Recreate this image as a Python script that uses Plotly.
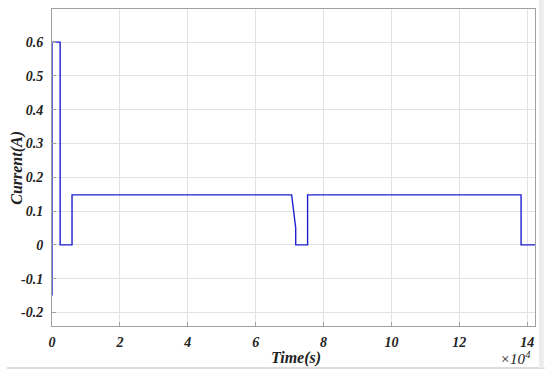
import plotly.graph_objects as go

# current waveform (time in s, current in A)
time_s = [0, 0, 2400, 2400, 5900, 5900, 70600, 71800, 71800, 75300, 75300, 138200, 138200, 142300]
current_a = [-0.15, 0.6, 0.6, 0, 0, 0.148, 0.148, 0.05, 0, 0, 0.148, 0.148, 0, 0]

x_ticks = [0, 20000, 40000, 60000, 80000, 100000, 120000, 140000]
x_labels = ["0", "2", "4", "6", "8", "10", "12", "14"]
y_ticks = [-0.2, -0.1, 0, 0.1, 0.2, 0.3, 0.4, 0.5, 0.6]
y_labels = ["-0.2", "-0.1", "0", "0.1", "0.2", "0.3", "0.4", "0.5", "0.6"]

serif = "Liberation Serif"
tick_font = dict(family=serif, size=14, color="#222")

fig = go.Figure()
fig.add_trace(go.Scatter(x=time_s, y=current_a, mode="lines",
                         line=dict(color="#1f1fd0", width=1.4),
                         showlegend=False))

axis_common = dict(showline=True, linecolor="#a0a0a0", linewidth=1, mirror=True,
                   ticks="inside", ticklen=4, tickcolor="#a0a0a0",
                   showgrid=True, gridcolor="#e2e2e2", gridwidth=1,
                   zeroline=False, tickfont=tick_font)

# bold italic labels like the MATLAB original
fig.update_xaxes(range=[0, 142300], tickvals=x_ticks,
                 ticktext=["<b><i>%s</i></b>" % t for t in x_labels],
                 ticklabelstandoff=3, **axis_common)
fig.update_yaxes(range=[-0.24, 0.698], tickvals=y_ticks,
                 ticktext=["<b><i>%s</i></b>" % t for t in y_labels],
                 ticklabelstandoff=5, **axis_common)

fig.add_annotation(text="<b><i>Time(s)</i></b>", xref="paper", yref="paper",
                   x=0.505, y=-0.1, showarrow=False, yanchor="middle",
                   font=dict(family=serif, size=16, color="#222"))
fig.add_annotation(text="<b><i>Current(A)</i></b>", xref="paper", yref="paper",
                   x=-0.074, y=0.5, showarrow=False, textangle=-90,
                   xanchor="center", yanchor="middle",
                   font=dict(family=serif, size=16, color="#222"))
fig.add_annotation(text="<i>×10<sup>4</sup></i>", xref="paper", yref="paper",
                   x=0.995, y=-0.1, showarrow=False, yanchor="middle",
                   font=dict(family=serif, size=15, color="#222"))

# the faint frame around the figure
fig.add_shape(type="line", xref="paper", yref="paper",
              x0=-0.093, x1=1.02, y0=-0.1325, y1=-0.1325,
              line=dict(color="#dcdcdc", width=2))
fig.add_shape(type="rect", xref="paper", yref="paper",
              x0=1.008, x1=1.018, y0=-0.1325, y1=1.03,
              fillcolor="#ececec", line=dict(width=0))

fig.update_layout(width=550, height=377, plot_bgcolor="white",
                  paper_bgcolor="white",
                  margin=dict(l=52, r=15, t=9, b=51))

fig.write_html("out.html", config={"displayModeBar": False},
               post_script="document.body.style.margin='0';")
